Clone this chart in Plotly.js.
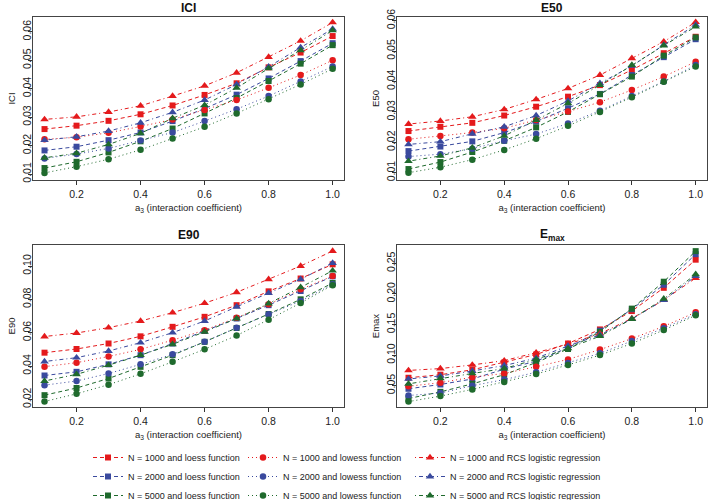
<!DOCTYPE html>
<html><head><meta charset="utf-8">
<script src="https://cdn.plot.ly/plotly-3.0.1.min.js"></script>
<style>html,body{margin:0;padding:0;background:#fff}#chart{width:709px;height:500px}</style>
</head><body><div id="chart"></div>
<script>
const a3 = [0.1,0.2,0.3,0.4,0.5,0.6,0.7,0.8,0.9,1.0];
const xTicks = [0.2,0.4,0.6,0.8,1.0];
const sampleSizes = ['1000','2000','5000'];
const methods = ['loess function','lowess function','RCS logistic regression'];
const panelTitles = ['<b>ICI</b>','<b>E50</b>','<b>E90</b>','<b>E<sub>max</sub></b>'];
const yTitles = ['ICI','E50','E90','Emax'];

// ICI
const ici_loess_1000  = [0.0258,0.0270,0.0287,0.0310,0.0341,0.0378,0.0419,0.0475,0.0527,0.0585];
const ici_loess_2000  = [0.0183,0.0196,0.0219,0.0246,0.0286,0.0330,0.0379,0.0436,0.0497,0.0560];
const ici_loess_5000  = [0.0121,0.0143,0.0176,0.0215,0.0260,0.0313,0.0367,0.0427,0.0488,0.0553];
const ici_lowess_1000 = [0.0222,0.0229,0.0245,0.0267,0.0292,0.0325,0.0360,0.0403,0.0448,0.0500];
const ici_lowess_2000 = [0.0155,0.0170,0.0190,0.0218,0.0246,0.0286,0.0328,0.0374,0.0425,0.0478];
const ici_lowess_5000 = [0.0104,0.0126,0.0152,0.0185,0.0225,0.0266,0.0313,0.0363,0.0415,0.0470];
const ici_rcs_1000    = [0.0292,0.0301,0.0318,0.0340,0.0374,0.0410,0.0456,0.0511,0.0568,0.0633];
const ici_rcs_2000    = [0.0219,0.0231,0.0251,0.0280,0.0317,0.0360,0.0415,0.0477,0.0545,0.0610];
const ici_rcs_5000    = [0.0157,0.0173,0.0204,0.0243,0.0296,0.0342,0.0403,0.0471,0.0535,0.0605];
// E50
const e50_loess_1000  = [0.0237,0.0251,0.0264,0.0288,0.0317,0.0350,0.0388,0.0438,0.0493,0.0547];
const e50_loess_2000  = [0.0171,0.0186,0.0203,0.0232,0.0268,0.0312,0.0359,0.0421,0.0480,0.0539];
const e50_loess_5000  = [0.0112,0.0135,0.0168,0.0205,0.0249,0.0300,0.0358,0.0416,0.0485,0.0545];
const e50_lowess_1000 = [0.0210,0.0221,0.0232,0.0246,0.0273,0.0301,0.0332,0.0372,0.0416,0.0465];
const e50_lowess_2000 = [0.0153,0.0161,0.0179,0.0205,0.0227,0.0262,0.0304,0.0352,0.0400,0.0454];
const e50_lowess_5000 = [0.0100,0.0118,0.0143,0.0175,0.0212,0.0254,0.0300,0.0348,0.0399,0.0449];
const e50_rcs_1000    = [0.0260,0.0270,0.0284,0.0308,0.0341,0.0377,0.0421,0.0476,0.0531,0.0595];
const e50_rcs_2000    = [0.0193,0.0202,0.0228,0.0251,0.0288,0.0336,0.0394,0.0451,0.0520,0.0586];
const e50_rcs_5000    = [0.0138,0.0155,0.0182,0.0221,0.0273,0.0328,0.0388,0.0454,0.0518,0.0580];
// E90
const e90_loess_1000  = [0.0480,0.0502,0.0535,0.0578,0.0635,0.0695,0.0765,0.0848,0.0925,0.1010];
const e90_loess_2000  = [0.0343,0.0365,0.0410,0.0465,0.0535,0.0610,0.0685,0.0765,0.0850,0.0938];
const e90_loess_5000  = [0.0225,0.0268,0.0325,0.0395,0.0465,0.0545,0.0628,0.0712,0.0800,0.0898];
const e90_lowess_1000 = [0.0396,0.0420,0.0457,0.0500,0.0555,0.0615,0.0690,0.0770,0.0860,0.0940];
const e90_lowess_2000 = [0.0285,0.0310,0.0355,0.0410,0.0470,0.0545,0.0630,0.0710,0.0790,0.0890];
const e90_lowess_5000 = [0.0187,0.0233,0.0288,0.0353,0.0425,0.0500,0.0583,0.0678,0.0778,0.0885];
const e90_rcs_1000    = [0.0577,0.0598,0.0630,0.0670,0.0720,0.0777,0.0842,0.0920,0.1000,0.1090];
const e90_rcs_2000    = [0.0427,0.0450,0.0490,0.0540,0.0600,0.0670,0.0755,0.0838,0.0920,0.1018];
const e90_rcs_5000    = [0.0310,0.0350,0.0405,0.0465,0.0530,0.0605,0.0685,0.0775,0.0872,0.0972];
// Emax
const emax_loess_1000  = [0.063,0.068,0.076,0.088,0.101,0.119,0.142,0.172,0.210,0.256];
const emax_loess_2000  = [0.045,0.052,0.061,0.077,0.090,0.112,0.140,0.175,0.215,0.265];
const emax_loess_5000  = [0.029,0.040,0.053,0.068,0.088,0.110,0.138,0.176,0.220,0.270];
const emax_lowess_1000 = [0.049,0.055,0.064,0.070,0.081,0.093,0.109,0.127,0.147,0.170];
const emax_lowess_2000 = [0.034,0.038,0.050,0.060,0.072,0.087,0.103,0.123,0.144,0.167];
const emax_lowess_5000 = [0.024,0.033,0.044,0.056,0.069,0.084,0.100,0.119,0.141,0.165];
const emax_rcs_1000    = [0.075,0.078,0.084,0.091,0.104,0.118,0.135,0.160,0.190,0.226];
const emax_rcs_2000    = [0.061,0.066,0.074,0.083,0.095,0.115,0.133,0.159,0.190,0.229];
const emax_rcs_5000    = [0.053,0.062,0.070,0.078,0.093,0.111,0.131,0.159,0.192,0.232];

const panels = [
  [[ici_loess_1000,ici_loess_2000,ici_loess_5000],[ici_lowess_1000,ici_lowess_2000,ici_lowess_5000],[ici_rcs_1000,ici_rcs_2000,ici_rcs_5000]],
  [[e50_loess_1000,e50_loess_2000,e50_loess_5000],[e50_lowess_1000,e50_lowess_2000,e50_lowess_5000],[e50_rcs_1000,e50_rcs_2000,e50_rcs_5000]],
  [[e90_loess_1000,e90_loess_2000,e90_loess_5000],[e90_lowess_1000,e90_lowess_2000,e90_lowess_5000],[e90_rcs_1000,e90_rcs_2000,e90_rcs_5000]],
  [[emax_loess_1000,emax_loess_2000,emax_loess_5000],[emax_lowess_1000,emax_lowess_2000,emax_lowess_5000],[emax_rcs_1000,emax_rcs_2000,emax_rcs_5000]]
];
const yRanges = [[0.0079,0.0652],[0.0076,0.0612],[0.0154,0.1126],[0.0152,0.28]];
const yTickVals = [[0.01,0.02,0.03,0.04,0.05,0.06],[0.01,0.02,0.03,0.04,0.05,0.06],[0.02,0.04,0.06,0.08,0.10],[0.05,0.10,0.15,0.20,0.25]];

const colors = ['#e41a1c','#3a4a9e','#1f6a2d'];
const symbols = ['square','circle','triangle-up'];
const msizes = [6,6.5,7.5];
const dashes = ['4px,3px','1px,3px','1px,3px,4px,3px'];

const W = 709, H = 500;
const colX = [[33,344],[397,707]];
const rowY = [[17,180],[245,407]];
const font = 'Liberation Sans, Arial, sans-serif';
const legendTextX = [128, 283, 450];
const legendIds = ['legend','legend2','legend3'];

const traces = [];
const layout = {
  width: W, height: H, margin: {l:0,r:0,t:0,b:0,autoexpand:false},
  paper_bgcolor: '#fff', plot_bgcolor: '#fff',
  font: {family: font, color: '#222'},
  showlegend: true,
  annotations: []
};
legendIds.forEach((id, i) => {
  layout[id] = {orientation: 'v', x: (legendTextX[i] - 40) / W, y: -0.02, xanchor: 'left', yanchor: 'bottom',
    font: {size: 9, color: '#222', family: font}, tracegroupgap: 0, itemwidth: 30,
    bgcolor: 'rgba(0,0,0,0)', borderwidth: 0};
});

panels.forEach((panel, p) => {
  const col = p % 2, row = Math.floor(p / 2);
  const xs = p === 0 ? '' : String(p + 1);
  const xd = [colX[col][0] / W, colX[col][1] / W];
  const yd = [1 - rowY[row][1] / H, 1 - rowY[row][0] / H];
  layout['xaxis' + xs] = {
    domain: xd, anchor: 'y' + xs, range: [0.064, 1.0355],
    tickvals: xTicks, ticktext: xTicks.map(v => v.toFixed(1)),
    ticks: 'outside', ticklen: 4, tickcolor: '#333', tickwidth: 1,
    showline: true, mirror: true, linecolor: '#444', linewidth: 1,
    showgrid: false, zeroline: false, automargin: false,
    tickfont: {size: 10.5, color: '#222'},
    title: {text: 'a<sub>3</sub> (interaction coefficient)', font: {size: 9.5, color: '#222'}, standoff: 5}
  };
  layout['yaxis' + xs] = {
    domain: yd, anchor: 'x' + xs, range: yRanges[p],
    tickvals: yTickVals[p], ticktext: yTickVals[p].map(v => v.toFixed(2)),
    tickangle: -90,
    ticks: 'outside', ticklen: 4, tickcolor: '#333', tickwidth: 1,
    showline: true, mirror: true, linecolor: '#444', linewidth: 1,
    showgrid: false, zeroline: false, automargin: false,
    ticklabelstandoff: -7,
    tickfont: {size: 10.5, color: '#222'},
    title: {text: yTitles[p], font: {size: 9.5, color: '#222'}, standoff: 3}
  };
  layout.annotations.push({
    text: panelTitles[p], xref: 'paper', yref: 'paper',
    x: (xd[0] + xd[1]) / 2, y: 1 - (row === 0 ? 8 : 235) / H,
    xanchor: 'center', yanchor: 'middle', showarrow: false,
    font: {size: 12, color: '#111', family: font}
  });
  panel.forEach((method, m) => {
    method.forEach((vals, n) => {
      traces.push({
        type: 'scatter', mode: 'lines+markers', x: a3, y: vals,
        xaxis: 'x' + xs, yaxis: 'y' + xs,
        name: 'N = ' + sampleSizes[n] + ' and ' + methods[m],
        legend: legendIds[m], legendrank: n + 1,
        legendgroup: 'g' + m + n, showlegend: p === 0,
        line: {color: colors[n], width: 1, dash: dashes[m]},
        marker: {color: colors[n], symbol: symbols[m], size: msizes[m]}
      });
    });
  });
});

Plotly.newPlot('chart', traces, layout, {displayModeBar: false, staticPlot: true});
</script>
</body></html>
